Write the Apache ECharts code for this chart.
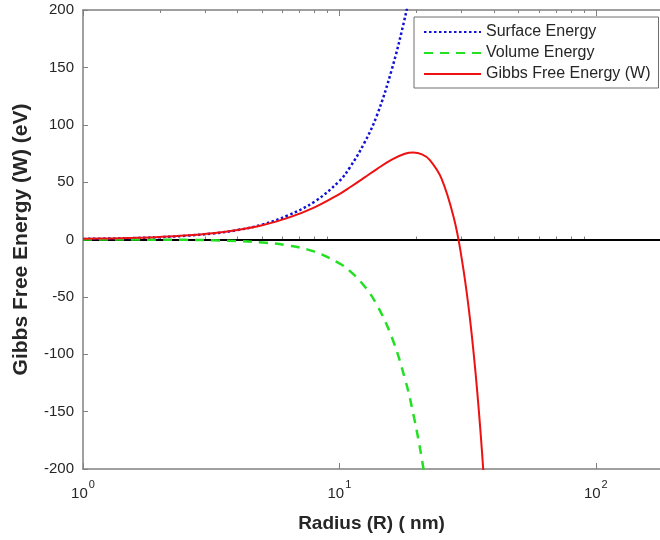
<!DOCTYPE html>
<html>
<head>
<meta charset="utf-8">
<script src="https://cdn.jsdelivr.net/npm/echarts@6/dist/echarts.min.js"></script>
<style>
html,body{margin:0;padding:0;background:#fff;}
#chart{width:660px;height:540px;}
</style>
</head>
<body>
<div id="chart"></div>
<script>
// Radius (nm)
const radius = [1, 1.25, 1.6, 2, 2.5, 3.2, 4, 5, 6.3, 8, 10, 11, 12.5, 14, 16, 18, 19.4, 21, 22.5, 25, 28, 30, 32, 34, 36, 38];
// Surface energy (eV)
const surfaceEnergy = [0.5, 0.8, 1.3, 2.0, 3.2, 5.2, 8.2, 13, 21, 33, 51, 63, 84, 108, 148, 193, 228, null, null, null, null, null, null, null, null, null];
// Volume energy (eV)
const volumeEnergy = [-0.02, -0.04, -0.09, -0.17, -0.32, -0.68, -1.33, -2.59, -5.2, -10.6, -20.8, -27.6, -40.5, -56.9, -85.0, -121.0, -151.5, -192.2, -236.4, null, null, null, null, null, null, null];
// Gibbs free energy W (eV)
const gibbsEnergy = [0.58, 0.9, 1.46, 2.25, 3.45, 5.5, 8.34, 12.5, 18.8, 28.0, 39.6, 45.5, 53.9, 61.4, 69.6, 74.7, 75.8, 74.2, 69.4, 53.3, 18.0, -16.7, -61.4, -117.4, -185.3, -266.4];

const xMinorTicks = [2, 3, 4, 5, 6, 7, 8, 9, 20, 30, 40, 50, 60, 70, 80, 90];
const yTicks = [-200, -150, -100, -50, 0, 50, 100, 150, 200];

const seriesNames = ['Surface Energy', 'Volume Energy', 'Gibbs Free Energy (W)'];

function pairs(ys) {
  const out = [];
  for (let i = 0; i < radius.length; i++) {
    if (ys[i] !== null) out.push([radius[i], ys[i]]);
  }
  return out;
}

const FONT = '"Liberation Sans", Arial, sans-serif';
const AXIS_COLOR = '#808080';
const TEXT_COLOR = '#262626';

const chart = echarts.init(document.getElementById('chart'), null, {renderer: 'canvas'});

const baseX = {
  type: 'log',
  logBase: 10,
  min: 1,
  max: 178,
  gridIndex: 0,
  splitLine: {show: false},
  axisLine: {show: true, onZero: false, lineStyle: {color: AXIS_COLOR, width: 1.5}}
};

const option = {
  backgroundColor: '#ffffff',
  animation: false,
  textStyle: {fontFamily: FONT},
  grid: {left: 83, top: 10, right: 0, bottom: 71, containLabel: false},
  legend: {
    orient: 'vertical',
    left: 414,
    top: 17,
    data: seriesNames,
    itemWidth: 57,
    itemHeight: 14,
    itemGap: 5,
    padding: [7, 8, 6, 9],
    backgroundColor: '#ffffff',
    borderColor: '#6e6e6e',
    borderWidth: 1,
    borderRadius: 0,
    itemStyle: {opacity: 0},
    textStyle: {fontFamily: FONT, fontSize: 16, color: TEXT_COLOR}
  },
  xAxis: [
    Object.assign({}, baseX, {
      position: 'bottom',
      name: 'Radius (R) ( nm)',
      nameLocation: 'middle',
      nameGap: 45,
      nameTextStyle: {fontFamily: FONT, fontSize: 19, fontWeight: 'bold', color: TEXT_COLOR},
      axisTick: {show: true, inside: true, length: 6, lineStyle: {color: AXIS_COLOR, width: 1}},
      axisLabel: {
        show: true,
        margin: 10,
        showMaxLabel: false,
        fontFamily: FONT,
        color: TEXT_COLOR,
        formatter: function (v) {
          const e = Math.log10(v);
          if (Math.abs(e - Math.round(e)) > 1e-6) return '';
          return '{b|10}{s|' + Math.round(e) + '}';
        },
        rich: {
          b: {fontSize: 15, fontFamily: FONT, color: TEXT_COLOR, verticalAlign: 'bottom', lineHeight: 22},
          s: {fontSize: 11, fontFamily: FONT, color: TEXT_COLOR, verticalAlign: 'top', lineHeight: 12, padding: [0, 0, 0, 1]}
        }
      }
    }),
    Object.assign({}, baseX, {
      position: 'top',
      axisTick: {show: true, inside: true, length: 6, lineStyle: {color: AXIS_COLOR, width: 1}},
      axisLabel: {show: false}
    }),
    Object.assign({}, baseX, {
      position: 'bottom',
      axisLine: {show: false},
      axisTick: {show: true, inside: true, length: 3, customValues: xMinorTicks, lineStyle: {color: AXIS_COLOR, width: 1}},
      axisLabel: {show: false}
    }),
    Object.assign({}, baseX, {
      position: 'top',
      axisLine: {show: false},
      axisTick: {show: true, inside: true, length: 3, customValues: xMinorTicks, lineStyle: {color: AXIS_COLOR, width: 1}},
      axisLabel: {show: false}
    })
  ],
  yAxis: [{
    type: 'value',
    min: yTicks[0],
    max: yTicks[yTicks.length - 1],
    interval: 50,
    position: 'left',
    name: 'Gibbs Free Energy (W) (eV)',
    nameLocation: 'middle',
    nameGap: 51,
    nameTextStyle: {fontFamily: FONT, fontSize: 21, fontWeight: 'bold', color: TEXT_COLOR},
    splitLine: {show: false},
    axisLine: {show: true, onZero: false, lineStyle: {color: AXIS_COLOR, width: 1.5}},
    axisTick: {show: true, inside: true, length: 5, lineStyle: {color: AXIS_COLOR, width: 1}},
    axisLabel: {fontFamily: FONT, fontSize: 15, color: TEXT_COLOR, margin: 9}
  }],
  series: [
    {
      name: seriesNames[0],
      type: 'line',
      xAxisIndex: 0,
      data: pairs(surfaceEnergy),
      smooth: 0.4,
      symbol: 'none',
      clip: true,
      color: '#1212d6',
      lineStyle: {color: '#1212d6', width: 2.5, type: [2.5, 2.5]},
      z: 3
    },
    {
      name: seriesNames[1],
      type: 'line',
      xAxisIndex: 0,
      data: pairs(volumeEnergy),
      smooth: 0.4,
      symbol: 'none',
      clip: true,
      color: '#22e022',
      lineStyle: {color: '#22e022', width: 2.5, type: [9, 7]},
      z: 3
    },
    {
      name: seriesNames[2],
      type: 'line',
      xAxisIndex: 0,
      data: pairs(gibbsEnergy),
      smooth: 0.4,
      symbol: 'none',
      clip: true,
      color: '#ee1111',
      lineStyle: {color: '#ee1111', width: 2},
      z: 4,
      markLine: {
        silent: true,
        symbol: ['none', 'none'],
        label: {show: false},
        lineStyle: {color: '#000000', width: 2, type: 'solid'},
        data: [{yAxis: 0}],
        z: 2
      }
    }
  ]
};
chart.setOption(option);
</script>
</body>
</html>
